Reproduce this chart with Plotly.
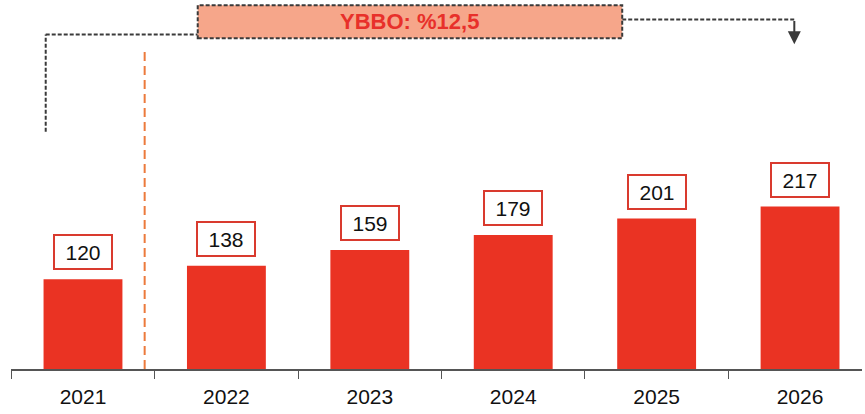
import plotly.graph_objects as go

years = ["2021", "2022", "2023", "2024", "2025", "2026"]
values = [120, 138, 159, 179, 201, 217]
cagr_label = "YBBO: %12,5"

BAR = "#ea3323"
BOX_RED = "#d93a2e"
DARK = "#3a3a3a"
DASH = "4px,2px"

fig = go.Figure()
fig.add_trace(go.Bar(
    x=years, y=values, width=0.55,
    marker=dict(color=BAR, line=dict(width=0)),
    hoverinfo="x+y",
))

# value boxes above bars (category index as x position)
for i, v in enumerate(values):
    fig.add_annotation(
        x=i, y=v, xref="x", yref="y", yanchor="bottom", yshift=9,
        text=str(v), showarrow=False,
        font=dict(family="Liberation Sans, Arial", size=21, color="#111"),
        bgcolor="white", bordercolor=BOX_RED, borderwidth=2,
        width=52, height=28, borderpad=2,
    )

# dashed separator between actual and forecast years
fig.add_shape(type="line", xref="x", yref="y", x0=0.43, x1=0.43, y0=0, y1=425,
              line=dict(color="#ec7a3c", width=2, dash="9px,5px"), layer="below")

# CAGR bracket: left leg
fig.add_shape(type="line", xref="x", yref="y", x0=-0.26, x1=-0.26, y0=317, y1=447,
              line=dict(color=DARK, width=2, dash=DASH))
fig.add_shape(type="line", xref="x", yref="y", x0=-0.26, x1=0.8, y0=447, y1=447,
              line=dict(color=DARK, width=2, dash=DASH))
# right leg
fig.add_shape(type="line", xref="x", yref="y", x0=3.76, x1=4.96, y0=467, y1=467,
              line=dict(color=DARK, width=2, dash=DASH))
fig.add_annotation(x=4.96, y=434, ax=4.96, ay=467, xref="x", yref="y",
                   axref="x", ayref="y", showarrow=True, arrowhead=2,
                   arrowsize=1.3, arrowwidth=2, arrowcolor=DARK, text="")

# CAGR box
fig.add_shape(type="rect", xref="x", yref="y", x0=0.8, x1=3.76, y0=442, y1=486,
              fillcolor="#f6a68a", line=dict(color=DARK, width=2, dash=DASH))
fig.add_annotation(x=2.28, y=464, xref="x", yref="y", text=f"<b>{cagr_label}</b>",
                   showarrow=False,
                   font=dict(family="Liberation Sans, Arial", size=22, color="#e8302a"))

fig.update_layout(
    width=865, height=414,
    margin=dict(l=11, r=3, t=0, b=45),
    paper_bgcolor="white", plot_bgcolor="white",
    showlegend=False, bargap=0.45,
    xaxis=dict(
        type="category", range=[-0.502, 5.432],
        showline=True, linecolor="#555", linewidth=1.5,
        ticks="outside", ticklen=8, tickcolor="#555", tickson="boundaries",
        ticklabelstandoff=8,
        tickfont=dict(family="Liberation Sans, Arial", size=21, color="#111"),
        showgrid=False, zeroline=False,
    ),
    yaxis=dict(range=[0, 493], visible=False, showgrid=False, zeroline=False),
)

fig.write_html("out.html")
